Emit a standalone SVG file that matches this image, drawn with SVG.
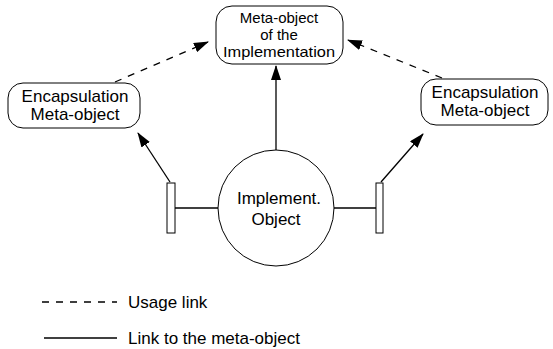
<svg xmlns="http://www.w3.org/2000/svg" width="553" height="349" viewBox="0 0 553 349">
<style>
.box{fill:#fff;stroke:#000;stroke-width:1}
.t{font-family:"Liberation Sans",Arial,sans-serif;font-size:17px;fill:#000;text-anchor:middle}
.tt{font-family:"Liberation Sans",Arial,sans-serif;font-size:15px;fill:#000;text-anchor:middle}
.tl{font-family:"Liberation Sans",Arial,sans-serif;font-size:17px;fill:#000}
.ln{stroke:#000;stroke-width:1.3;fill:none}
.dash{stroke:#000;stroke-width:1.3;fill:none;stroke-dasharray:7,7}
</style>
<defs>
<marker id="ah" markerWidth="15" markerHeight="10" refX="14" refY="5" orient="auto" markerUnits="userSpaceOnUse">
<path d="M0,0 L15,5 L0,10 Z" fill="#000"/>
</marker>
</defs>
<g id="connectors">
<line class="dash" x1="115" y1="82" x2="208" y2="42" marker-end="url(#ah)"/>
<line class="dash" x1="442" y1="78" x2="348" y2="40" marker-end="url(#ah)"/>
<line class="ln" x1="276" y1="150" x2="276" y2="66" marker-end="url(#ah)"/>
<line class="ln" x1="170" y1="182" x2="138" y2="133" marker-end="url(#ah)"/>
<line class="ln" x1="381" y1="182" x2="423" y2="134" marker-end="url(#ah)"/>
<line class="ln" x1="175" y1="208" x2="218" y2="208"/>
<line class="ln" x1="334" y1="208" x2="376" y2="208"/>
</g>
<g id="meta-impl">
<rect class="box" x="216" y="6" width="127" height="58" rx="16" ry="16"/>
<text class="tt" x="279" y="23">Meta-object</text>
<text class="tt" x="279" y="40">of the</text>
<text class="tt" x="279" y="57" textLength="112" lengthAdjust="spacingAndGlyphs">Implementation</text>
</g>
<g id="encap-left">
<rect class="box" x="8" y="83" width="132" height="45" rx="15" ry="15"/>
<text class="t" x="75" y="102">Encapsulation</text>
<text class="t" x="75" y="120">Meta-object</text>
</g>
<g id="encap-right">
<rect class="box" x="421" y="79" width="127" height="46" rx="15" ry="15"/>
<text class="t" x="485" y="98">Encapsulation</text>
<text class="t" x="485" y="116">Meta-object</text>
</g>
<g id="impl-object">
<circle class="box" cx="276" cy="208" r="58"/>
<text class="t" x="279" y="204">Implement.</text>
<text class="t" x="276" y="225">Object</text>
</g>
<g id="bar-left">
<rect class="box" x="167" y="183" width="8" height="50"/>
</g>
<g id="bar-right">
<rect class="box" x="376" y="183" width="7" height="50"/>
</g>
<g id="legend">
<line class="dash" x1="42" y1="302" x2="117" y2="302"/>
<text class="tl" x="128" y="308">Usage link</text>
<line class="ln" x1="44" y1="338" x2="117" y2="338"/>
<text class="tl" x="128" y="344">Link to the meta-object</text>
</g>
</svg>
